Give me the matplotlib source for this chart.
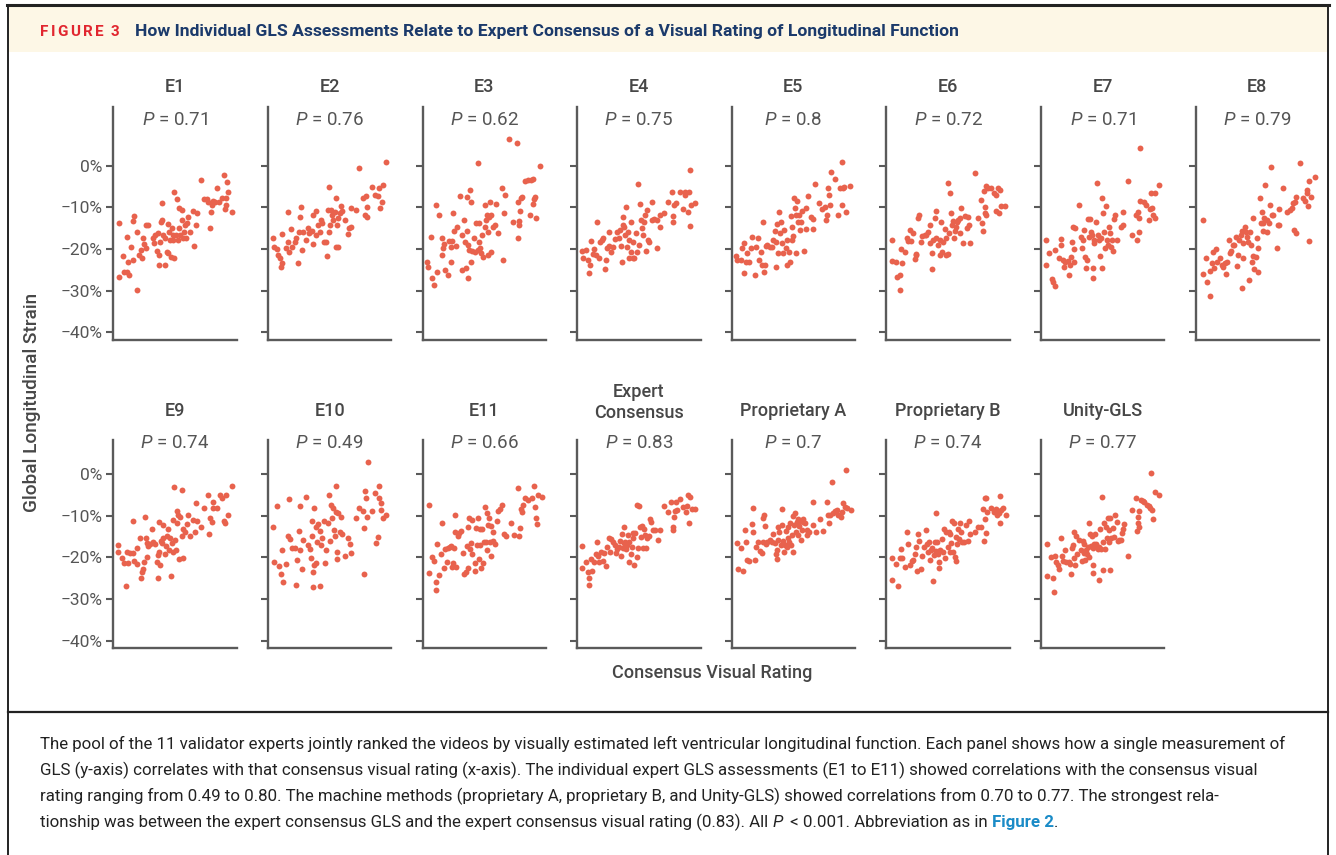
import matplotlib
matplotlib.use("Agg")
import matplotlib.pyplot as plt
from matplotlib.patches import Rectangle
from matplotlib.lines import Line2D

plt.rcParams['font.family'] = ['Roboto', 'DejaVu Sans']
plt.rcParams['mathtext.fontset'] = 'custom'
plt.rcParams['mathtext.rm'] = 'Roboto'
plt.rcParams['mathtext.it'] = 'Roboto:italic'
plt.rcParams['mathtext.bf'] = 'Roboto:bold'

# ---------------- data: (consensus visual rating, GLS %) ----------------
e1 = [(4.6,-13.7),(4.3,-26.7),(7.6,-21.7),(9.0,-25.4),(10.8,-17.1),(10.8,-25.6),(12.4,-26.1),(11.6,-23.2),
      (14.0,-19.4),(16.2,-22.7),(16.2,-13.2),(17.0,-12.0),(18.9,-15.8),(18.9,-29.8),(21.0,-21.4),(23.0,-22.1),
      (22.2,-20.2),(23.8,-17.3),(25.1,-18.7),(26.2,-14.2),(28.4,-14.2),(26.5,-19.8),(31.9,-17.4),(33.2,-18.6),
      (33.8,-16.6),(36.5,-16.2),(35.7,-20.5),(37.3,-21.4),(37.3,-23.7),(37.8,-18.2),(38.6,-13.4),(39.2,-8.9),
      (39.7,-13.0),(40.3,-16.6),(41.9,-23.8),(41.9,-17.4),(43.2,-20.6),(44.0,-21.0),(44.6,-14.0),(45.4,-15.8),
      (45.9,-17.8),(46.5,-21.8),(47.3,-15.0),(48.1,-16.6),(48.6,-17.8),(49.2,-22.1),(49.5,-6.2),(50.8,-16.6),
      (51.4,-8.0),(52.2,-17.8),(53.0,-10.1),(53.5,-15.0),(54.0,-16.6),(55.4,-13.0),(55.7,-10.7),(56.2,-17.4),
      (57.3,-15.8),(58.1,-14.2),(58.9,-17.4),(60.0,-13.8),(60.8,-12.2),(62.2,-16.0),(64.6,-10.9),(65.7,-19.2),
      (67.0,-14.2),(68.1,-11.4),(71.1,-3.4),(73.8,-8.0),(76.2,-8.0),(77.0,-8.6),(78.4,-14.9),(79.2,-11.2),
      (79.7,-9.4),(81.1,-8.5),(82.4,-8.8),(84.3,-5.3),(85.9,-8.6),(87.8,-7.8),(89.7,-2.2),(90.3,-10.4),
      (91.6,-7.8),(91.9,-3.8),(92.7,-6.2),(91.4,-9.4),(95.9,-11.0)]
e2 = [(4.1,-17.4),(4.6,-19.5),(7.3,-20.0),(8.1,-21.4),(9.5,-22.2),(10.3,-24.2),(11.6,-23.3),(11.6,-16.3),
      (14.3,-19.8),(16.2,-18.2),(16.5,-11.2),(17.0,-20.6),(18.9,-15.2),(19.7,-19.4),(21.6,-18.2),(23.0,-17.4),
      (24.0,-23.4),(25.1,-15.8),(25.7,-12.2),(26.8,-9.8),(27.3,-20.3),(28.4,-15.8),(30.8,-17.8),(32.4,-15.0),
      (33.5,-16.2),(35.7,-15.6),(36.2,-18.8),(36.8,-11.7),(38.6,-10.9),(39.2,-16.6),(40.5,-14.2),(41.9,-15.8),
      (43.2,-13.0),(44.0,-13.8),(45.1,-18.2),(46.8,-18.3),(48.1,-21.6),(48.6,-10.6),(49.5,-5.1),(49.5,-15.8),
      (50.5,-14.2),(51.4,-10.5),(52.2,-11.8),(52.7,-13.0),(54.0,-11.2),(54.9,-19.4),(55.4,-7.7),(56.0,-14.1),
      (56.8,-19.6),(57.0,-12.6),(58.1,-11.4),(59.5,-9.7),(60.3,-10.9),(62.2,-12.9),(64.9,-16.4),(65.7,-14.9),
      (67.0,-10.1),(67.6,-14.6),(71.1,-10.6),(73.8,-0.6),(77.0,-7.7),(78.4,-11.7),(79.2,-7.3),(80.0,-9.8),
      (80.5,-12.2),(84.0,-5.1),(86.8,-7.0),(88.9,-7.3),(90.3,-5.3),(90.8,-10.1),(92.2,-8.8),(93.5,-4.6),
      (95.9,1.0)]
e3 = [(3.5,-23.0),(4.1,-24.4),(6.8,-17.0),(8.1,-27.0),(9.7,-28.7),(10.8,-9.4),(11.6,-25.4),(13.5,-11.7),
      (15.4,-17.3),(15.4,-21.3),(16.8,-19.8),(17.6,-18.7),(18.4,-25.1),(20.3,-26.1),(21.6,-18.1),(23.0,-19.5),
      (23.5,-23.2),(24.3,-18.1),(25.1,-11.4),(25.7,-15.7),(27.0,-19.2),(27.6,-14.6),(30.3,-7.3),(31.9,-25.0),
      (32.4,-16.5),(33.8,-13.0),(34.6,-18.2),(35.1,-24.6),(35.9,-7.4),(35.9,-15.7),(36.5,-27.0),(36.8,-19.0),
      (37.3,-20.2),(38.4,-5.8),(39.2,-8.7),(39.5,-23.0),(40.5,-20.5),(41.9,-17.4),(42.2,-20.6),(43.2,-13.7),
      (44.6,0.6),(44.6,-20.2),(45.4,-13.8),(45.9,-18.2),(46.8,-19.8),(47.3,-21.0),(48.6,-16.6),(49.2,-21.8),
      (50.3,-9.4),(50.8,-14.6),(51.4,-13.0),(52.2,-11.8),(52.7,-21.4),(53.2,-15.8),(54.0,-12.2),(54.9,-8.8),
      (55.4,-20.6),(55.9,-11.8),(56.8,-14.6),(58.9,-14.2),(59.5,-9.2),(61.0,-16.2),(64.3,-5.4),(64.9,-22.5),
      (65.9,-11.4),(67.0,-6.9),(70.0,6.4),(73.0,-13.4),(76.2,5.4),(77.0,-8.6),(77.3,-17.4),(77.8,-14.1),
      (78.4,-13.3),(78.9,-10.9),(79.7,-7.8),(80.3,-7.4),(83.2,-3.6),(85.1,-3.4),(87.0,-11.7),(87.8,-3.4),
      (89.2,-9.2),(89.7,-3.2),(90.5,-8.0),(91.1,-7.4),(92.2,-12.6),(95.4,-0.1)]
e4 = [(4.1,-20.5),(4.6,-22.2),(7.3,-20.2),(8.6,-22.6),(10.0,-25.7),(10.8,-23.7),(11.4,-18.1),(12.7,-21.1),
      (14.1,-20.0),(15.4,-21.4),(15.9,-13.4),(17.6,-22.1),(18.6,-18.4),(20.3,-17.8),(20.8,-17.4),(22.4,-24.8),
      (23.5,-22.6),(24.0,-19.7),(25.7,-16.0),(26.2,-19.2),(27.6,-20.8),(28.9,-19.4),(31.1,-17.6),(32.2,-15.8),
      (33.8,-17.4),(34.9,-15.4),(35.7,-19.2),(36.5,-23.0),(37.0,-12.2),(37.0,-14.2),(38.4,-14.6),(39.2,-16.5),
      (39.7,-9.8),(40.5,-19.4),(41.1,-15.8),(41.9,-22.1),(42.4,-17.8),(43.8,-13.6),(44.0,-20.6),(45.1,-22.2),
      (45.7,-18.4),(46.5,-22.2),(47.8,-16.2),(48.9,-20.6),(49.2,-4.4),(50.0,-19.0),(51.1,-9.2),(51.9,-13.0),
      (52.7,-15.0),(53.2,-16.6),(54.6,-13.4),(55.4,-11.7),(56.0,-20.4),(56.5,-10.6),(57.3,-17.8),(58.1,-18.2),
      (60.3,-8.8),(61.0,-13.0),(62.7,-12.8),(64.6,-12.9),(65.1,-19.7),(66.8,-14.6),(67.3,-11.7),(70.8,-11.3),
      (73.5,-8.6),(76.8,-6.4),(77.6,-13.4),(78.1,-12.0),(78.9,-9.3),(80.3,-8.9),(83.5,-6.2),(86.2,-10.4),
      (87.3,-7.0),(87.8,-6.4),(89.7,-11.2),(90.5,-6.4),(91.6,-1.0),(91.4,-14.5),(92.4,-9.4),(95.7,-9.0)]
e5 = [(3.8,-21.6),(4.6,-22.6),(7.3,-22.5),(8.1,-19.7),(10.0,-18.5),(10.3,-25.7),(11.4,-23.0),(12.7,-20.9),
      (14.0,-23.0),(15.4,-19.8),(16.8,-17.2),(18.9,-26.2),(19.5,-19.6),(21.4,-17.3),(22.2,-22.5),(23.5,-20.8),
      (24.9,-23.8),(25.7,-13.4),(26.2,-25.4),(26.8,-23.8),(27.6,-19.2),(28.9,-18.9),(30.8,-19.4),(33.0,-19.4),
      (33.8,-17.8),(34.9,-15.7),(35.7,-18.2),(36.2,-24.2),(37.0,-14.0),(37.3,-21.0),(38.4,-11.0),(38.9,-16.2),
      (39.7,-13.4),(40.5,-18.6),(41.9,-21.0),(42.2,-15.5),(43.8,-19.7),(44.6,-17.8),(45.1,-23.8),(46.5,-20.6),
      (47.0,-23.2),(47.8,-12.0),(48.6,-17.8),(49.2,-14.6),(49.7,-16.8),(50.5,-7.8),(51.4,-10.2),(51.9,-21.0),
      (52.4,-11.8),(53.2,-8.5),(54.0,-13.6),(54.6,-11.8),(55.4,-15.4),(55.9,-13.6),(57.3,-10.9),(58.6,-20.5),
      (60.0,-15.2),(60.5,-10.2),(61.9,-7.2),(64.1,-12.2),(65.9,-12.8),(65.9,-15.2),(67.6,-4.4),(70.8,-8.9),
      (73.5,-10.4),(75.7,-9.8),(76.8,-13.0),(77.6,-11.8),(78.4,-5.4),(78.9,-7.0),(79.5,-9.4),(80.5,-1.6),
      (83.8,-3.2),(86.5,-11.8),(87.6,-5.3),(89.2,-9.4),(90.3,-5.4),(89.7,1.0),(91.4,-5.2),(93.0,-11.2),
      (95.7,-4.8)]
e6 = [(4.9,-17.8),(4.9,-22.9),(8.1,-23.0),(8.6,-26.6),(10.8,-26.2),(10.8,-29.8),(12.2,-20.0),(13.0,-23.3),
      (14.9,-20.8),(16.8,-17.4),(17.8,-18.1),(19.5,-15.5),(20.3,-18.1),(21.6,-16.2),(23.0,-22.4),(23.8,-21.4),
      (24.3,-21.1),(25.9,-12.5),(26.5,-11.8),(28.4,-18.4),(29.2,-16.8),(31.1,-16.6),(32.4,-16.5),(33.8,-15.8),
      (35.1,-14.2),(35.7,-18.6),(37.0,-24.8),(37.3,-20.9),(37.8,-17.8),(39.2,-12.6),(40.0,-10.9),(40.5,-17.4),
      (41.9,-19.0),(43.2,-17.8),(43.8,-21.4),(44.6,-13.6),(45.4,-20.6),(45.9,-18.2),(47.3,-15.2),(48.1,-21.4),
      (48.6,-17.4),(49.7,-4.2),(50.3,-21.2),(50.8,-16.2),(51.4,-6.6),(52.7,-11.4),(53.5,-14.1),(54.0,-13.3),
      (54.9,-17.4),(55.7,-15.6),(56.8,-14.6),(57.3,-13.6),(58.1,-13.0),(59.5,-16.2),(60.0,-12.6),(60.8,-10.2),
      (62.2,-18.6),(63.5,-12.0),(65.4,-15.0),(66.2,-12.2),(67.0,-14.2),(68.1,-18.6),(71.6,-1.8),(74.3,-12.6),
      (77.0,-8.2),(77.8,-13.8),(78.4,-15.7),(78.9,-6.1),(79.7,-9.8),(79.7,-11.4),(80.5,-4.8),(81.1,-11.8),
      (82.4,-5.3),(85.1,-5.3),(87.0,-6.6),(88.6,-10.9),(89.2,-6.9),(90.5,-5.4),(91.4,-11.4),(92.4,-5.8),
      (93.2,-9.6),(96.5,-9.6)]
e7 = [(4.1,-17.8),(4.1,-23.7),(6.8,-21.0),(8.9,-27.2),(10.0,-27.8),(11.1,-28.9),(11.6,-20.2),(14.3,-22.1),
      (16.2,-18.9),(16.5,-17.6),(17.6,-22.6),(18.4,-24.2),(19.7,-23.0),(21.6,-22.8),(22.4,-26.2),(23.5,-23.7),
      (24.3,-21.8),(25.1,-18.2),(25.7,-14.6),(27.0,-20.0),(27.8,-15.0),(27.0,-23.2),(31.1,-9.4),(32.4,-17.0),
      (33.2,-19.8),(33.8,-17.8),(35.1,-15.4),(36.0,-21.8),(36.5,-24.6),(37.0,-22.6),(37.8,-12.8),(38.6,-17.0),
      (39.7,-12.8),(40.5,-15.8),(41.4,-16.6),(41.9,-27.0),(41.9,-24.6),(42.7,-17.8),(43.2,-18.6),(44.6,-13.4),
      (45.4,-4.2),(45.9,-16.6),(46.8,-17.8),(47.8,-21.7),(48.6,-17.4),(49.2,-7.8),(49.5,-24.6),(50.5,-11.4),
      (51.4,-15.8),(52.2,-19.7),(52.7,-9.6),(53.2,-17.8),(54.0,-19.0),(54.9,-14.6),(55.9,-16.2),(56.8,-19.4),
      (57.6,-17.8),(58.6,-20.5),(59.5,-12.8),(60.3,-11.8),(61.4,-17.8),(64.9,-14.6),(66.2,-14.2),(66.8,-11.0),
      (70.5,-3.7),(73.8,-16.5),(77.0,-11.8),(77.6,-17.7),(78.4,-11.0),(79.2,-16.0),(79.7,-12.5),(80.5,-8.5),
      (80.5,4.3),(83.2,-8.8),(85.1,-9.4),(87.3,-12.9),(88.4,-10.4),(89.5,-6.6),(90.0,-10.1),(91.1,-11.7),
      (92.4,-6.6),(92.7,-12.5),(95.9,-4.5)]
e8 = [(5.7,-13.1),(5.7,-25.9),(8.9,-22.1),(9.7,-27.8),(11.6,-31.2),(11.6,-25.2),(13.0,-23.4),(13.8,-20.8),
      (14.9,-24.6),(17.0,-20.0),(17.6,-23.0),(19.7,-22.2),(21.1,-23.7),(22.4,-24.2),(23.8,-23.4),(25.1,-26.0),
      (25.7,-23.0),(26.8,-17.7),(27.8,-21.0),(28.6,-20.5),(30.0,-19.0),(31.1,-18.9),(33.2,-17.0),(33.8,-24.0),
      (34.6,-21.4),(35.4,-17.8),(36.5,-16.6),(37.3,-15.7),(37.6,-29.4),(38.1,-18.6),(38.6,-22.1),(40.0,-14.6),
      (40.8,-15.8),(41.9,-17.0),(42.7,-18.4),(43.0,-27.5),(44.1,-15.8),(44.9,-19.0),(45.4,-23.0),(46.2,-21.6),
      (46.8,-12.6),(47.6,-24.8),(48.9,-21.8),(49.5,-17.4),(50.5,-25.4),(50.8,-19.8),(52.2,-7.7),(52.7,-13.8),
      (53.5,-11.2),(54.3,-15.7),(54.9,-13.8),(55.7,-12.5),(56.5,-4.6),(57.6,-15.8),(58.1,-13.0),(59.7,-13.8),
      (60.3,-9.4),(60.8,-0.2),(61.6,-11.7),(63.0,-11.7),(66.2,-19.7),(67.0,-14.2),(67.8,-14.2),(67.8,-10.4),
      (71.1,-5.3),(74.3,-11.2),(76.5,-10.6),(77.8,-10.2),(79.2,-9.0),(80.0,-15.4),(80.5,-8.6),(81.4,-16.2),
      (81.4,-7.4),(84.6,0.7),(87.3,-7.8),(88.6,-8.4),(90.0,-5.9),(90.5,-6.6),(90.8,-9.6),(92.2,-18.1),
      (93.2,-7.4),(92.2,-3.7),(96.8,-2.6)]
e9 = [(4.1,-17.0),(4.1,-18.6),(6.8,-20.1),(8.6,-21.4),(10.3,-26.8),(10.8,-18.8),(12.2,-21.4),(13.5,-19.0),
      (15.7,-19.0),(16.2,-11.2),(17.0,-20.9),(18.9,-17.7),(18.9,-21.7),(21.6,-15.3),(22.4,-25.0),(23.5,-23.4),
      (23.8,-22.8),(25.1,-21.2),(25.7,-10.2),(26.5,-15.3),(27.0,-16.5),(27.6,-19.8),(28.4,-17.2),(29.7,-16.9),
      (31.1,-13.2),(32.4,-16.4),(33.8,-16.9),(35.7,-21.0),(36.5,-24.9),(36.5,-19.4),(37.0,-11.6),(37.3,-18.6),
      (37.8,-21.8),(38.4,-16.1),(39.2,-16.6),(40.0,-12.2),(40.5,-15.4),(41.9,-19.3),(42.7,-17.2),(43.2,-14.8),
      (44.6,-13.2),(45.4,-18.2),(45.9,-15.3),(46.5,-24.5),(47.3,-16.6),(48.1,-11.0),(48.6,-18.6),(49.5,-3.0),
      (50.0,-15.8),(50.8,-18.2),(51.4,-8.9),(51.9,-11.8),(52.7,-9.8),(53.5,-20.5),(54.0,-10.2),(55.4,-3.8),
      (55.4,-14.8),(56.2,-20.2),(56.8,-13.2),(58.1,-14.0),(60.0,-12.1),(60.8,-9.7),(62.2,-14.8),(64.9,-11.0),
      (66.2,-13.8),(67.0,-7.0),(68.1,-11.2),(71.1,-12.6),(73.5,-8.2),(77.0,-5.0),(77.8,-14.5),(78.4,-10.5),
      (79.7,-11.4),(80.5,-8.2),(81.1,-6.6),(83.8,-8.1),(86.5,-5.0),(87.8,-5.7),(89.7,-11.3),(90.5,-11.8),
      (91.4,-5.0),(93.2,-9.7),(95.9,-2.8)]
e10 = [(4.1,-12.6),(4.6,-21.2),(7.3,-7.6),(8.9,-22.0),(10.8,-24.1),(11.6,-18.2),(12.2,-25.8),(14.3,-21.7),
       (16.2,-14.8),(17.0,-6.0),(18.1,-15.6),(19.7,-17.7),(21.6,-17.7),(22.4,-26.6),(23.5,-20.6),(25.1,-13.7),
       (25.7,-18.2),(26.2,-7.6),(27.3,-22.8),(28.4,-15.8),(31.1,-5.4),(32.4,-17.0),(33.8,-18.0),(35.1,-20.1),
       (35.9,-14.8),(35.9,-11.3),(36.5,-23.4),(36.5,-27.0),(37.0,-8.2),(37.3,-21.8),(38.6,-12.6),(39.2,-21.4),
       (39.7,-16.4),(40.5,-12.1),(41.9,-13.7),(41.9,-26.8),(43.2,-17.0),(44.1,-15.4),(45.1,-11.3),(45.9,-21.4),
       (47.3,-18.2),(48.6,-11.8),(49.5,-4.9),(50.0,-16.1),(50.8,-7.3),(51.9,-10.5),(52.7,-8.2),(53.2,-13.4),
       (54.0,-14.8),(54.9,-9.2),(55.4,-2.8),(56.0,-18.8),(56.2,-20.4),(56.8,-9.4),(58.1,-14.0),(59.5,-10.2),
       (60.3,-14.5),(62.2,-19.6),(64.9,-15.3),(66.8,-16.9),(67.6,-18.9),(71.1,-10.5),(73.8,-8.2),(77.0,-8.9),
       (77.8,-12.9),(77.8,-24.0),(78.4,-4.1),(79.2,-5.7),(80.0,-10.2),(80.8,3.0),(84.6,-8.9),(86.5,-4.6),
       (87.8,-16.6),(89.5,-15.0),(90.0,-2.8),(90.0,-5.8),(91.9,-7.0),(91.9,-8.6),(93.2,-10.5),(95.9,-9.7)]
e11 = [(4.9,-7.4),(4.9,-23.8),(7.8,-19.8),(9.2,-20.9),(10.8,-25.8),(10.8,-27.8),(11.9,-16.9),(13.0,-24.2),
       (14.6,-19.3),(16.2,-11.8),(17.3,-22.6),(18.1,-18.0),(19.5,-21.0),(20.8,-17.7),(22.2,-17.4),(23.5,-17.2),
       (24.1,-22.2),(24.9,-21.4),(25.7,-17.7),(26.5,-9.7),(27.0,-22.2),(26.2,-14.0),(28.4,-14.8),(29.7,-14.2),
       (31.6,-13.7),(33.0,-19.0),(33.5,-24.1),(35.1,-23.4),(36.2,-17.2),(37.0,-12.6),(37.0,-22.6),(37.8,-10.5),
       (38.4,-18.0),(39.2,-16.6),(40.0,-11.0),(40.5,-19.3),(42.4,-21.4),(42.7,-23.3),(43.2,-12.9),(43.8,-17.0),
       (45.1,-10.6),(45.4,-20.4),(46.5,-13.2),(47.0,-17.0),(47.8,-22.5),(48.6,-13.2),(49.2,-21.4),(49.7,-16.4),
       (50.3,-7.8),(51.4,-16.4),(51.9,-9.4),(52.4,-18.2),(53.2,-12.2),(53.8,-10.5),(54.6,-16.4),(55.4,-12.4),
       (55.9,-19.6),(56.8,-13.8),(57.3,-16.1),(58.6,-16.9),(60.5,-11.3),(61.4,-8.9),(62.7,-8.4),(64.1,-7.3),
       (66.2,-14.5),(67.8,-14.8),(71.4,-11.8),(74.1,-14.6),(77.6,-3.4),(78.4,-14.8),(78.9,-12.9),(79.5,-8.4),
       (80.5,-9.2),(81.1,-7.4),(83.0,-5.8),(85.7,-6.2),(88.4,-5.8),(90.3,-2.9),(90.8,-7.8),(91.6,-10.5),
       (92.4,-12.1),(93.8,-4.9),(96.5,-5.4)]
expert_consensus = [(4.1,-17.2),(4.1,-22.6),(7.3,-21.2),(8.6,-23.6),(10.0,-25.0),(10.0,-26.6),(11.4,-20.4),
       (12.2,-23.2),(14.1,-21.2),(15.4,-19.3),(16.2,-16.2),(17.0,-19.7),(18.1,-21.2),(19.5,-18.8),(20.8,-20.9),
       (22.2,-19.0),(23.5,-22.0),(24.3,-17.4),(25.7,-15.4),(26.8,-18.6),(27.6,-15.6),(28.9,-16.4),(31.1,-17.0),
       (31.6,-19.0),(32.2,-18.0),(33.8,-17.4),(34.9,-16.1),(35.7,-19.6),(36.2,-14.5),(37.0,-17.7),(37.8,-16.6),
       (38.4,-12.6),(39.2,-16.4),(39.7,-18.0),(40.3,-17.0),(41.1,-14.6),(41.9,-21.2),(42.4,-16.4),(43.8,-19.3),
       (44.6,-17.4),(45.1,-15.4),(45.7,-14.2),(46.5,-21.8),(47.3,-14.2),(48.4,-19.8),(48.9,-7.3),(49.5,-17.7),
       (50.5,-7.6),(51.1,-12.6),(51.9,-15.0),(52.7,-12.4),(53.2,-17.7),(54.6,-13.2),(55.4,-14.6),(56.0,-17.7),
       (56.5,-15.3),(58.1,-14.8),(59.2,-10.8),(60.0,-11.6),(61.4,-13.4),(63.5,-13.4),(65.4,-15.8),(67.3,-13.4),
       (70.8,-7.6),(73.5,-9.0),(76.2,-6.8),(77.6,-12.6),(78.1,-13.4),(78.9,-10.2),(79.5,-8.9),(80.3,-6.6),
       (81.0,-8.6),(83.5,-6.0),(86.2,-7.8),(88.4,-9.0),(88.9,-7.6),(89.7,-5.0),(91.0,-11.8),(91.6,-5.4),
       (93.2,-8.4),(95.9,-8.4)]
proprietary_a = [(4.6,-16.6),(4.9,-22.8),(7.6,-17.7),(8.9,-23.3),(10.8,-13.4),(11.6,-16.2),(12.7,-20.6),
       (14.3,-20.9),(16.2,-12.1),(17.0,-13.8),(17.6,-8.2),(18.9,-20.6),(19.7,-17.4),(21.6,-16.4),(23.0,-18.5),
       (24.3,-19.0),(25.1,-16.4),(25.7,-10.5),(26.5,-9.7),(27.0,-12.4),(27.8,-16.9),(28.9,-16.4),(31.1,-15.8),
       (32.4,-16.4),(33.2,-14.5),(35.1,-16.6),(35.9,-19.3),(36.5,-18.2),(37.0,-20.4),(37.3,-12.6),(37.8,-15.8),
       (38.6,-14.0),(39.7,-17.0),(40.5,-8.4),(40.8,-12.2),(41.9,-16.1),(42.4,-18.6),(43.2,-17.0),(44.1,-13.7),
       (44.6,-17.4),(45.4,-15.4),(45.9,-12.6),(46.8,-16.4),(47.3,-11.8),(48.1,-17.0),(48.6,-14.6),(49.5,-10.0),
       (50.0,-18.8),(50.5,-12.2),(51.4,-9.4),(52.2,-13.8),(52.7,-11.4),(53.5,-10.8),(54.0,-14.6),(54.9,-12.4),
       (55.4,-11.3),(56.2,-15.8),(56.8,-13.4),(57.6,-11.4),(58.1,-10.8),(59.5,-11.8),(60.8,-14.6),(61.4,-13.4),
       (63.0,-13.8),(65.7,-6.8),(66.2,-12.2),(68.4,-14.0),(71.6,-10.8),(74.3,-13.7),(77.0,-6.6),(78.4,-9.7),
       (79.2,-11.8),(79.7,-9.8),(81.1,-2.0),(81.9,-9.4),(83.8,-8.9),(85.1,-8.6),(86.5,-9.7),(88.4,-10.2),
       (89.2,-9.0),(90.5,-7.0),(91.9,-7.8),(92.4,1.0),(93.2,-8.2),(96.5,-8.6)]
proprietary_b = [(4.9,-20.1),(4.9,-25.4),(8.1,-21.7),(9.5,-26.8),(10.8,-20.1),(12.2,-18.0),(13.0,-20.2),
       (14.9,-22.2),(16.8,-14.0),(17.6,-16.9),(19.5,-21.8),(20.8,-20.9),(21.6,-20.6),(23.0,-19.3),(24.3,-17.4),
       (24.9,-23.3),(25.9,-14.5),(26.5,-16.1),(27.8,-22.8),(29.2,-19.6),(30.3,-17.4),(31.9,-13.4),(33.0,-16.9),
       (33.8,-18.8),(34.6,-16.4),(35.7,-20.6),(36.5,-18.2),(37.3,-17.7),(37.8,-25.7),(38.4,-19.4),(39.2,-16.4),
       (40.0,-18.5),(40.5,-9.4),(41.1,-16.4),(41.9,-19.3),(42.7,-21.2),(42.7,-22.5),(43.8,-18.2),(45.4,-15.6),
       (45.9,-18.6),(46.5,-13.2),(47.3,-20.2),(48.6,-13.8),(50.0,-17.4),(50.8,-14.0),(51.4,-18.8),(51.9,-14.5),
       (52.7,-16.6),(53.5,-11.3),(54.0,-18.6),(54.6,-11.8),(55.4,-19.8),(56.2,-15.0),(56.8,-20.9),(57.3,-16.9),
       (58.1,-13.2),(58.9,-15.6),(60.0,-11.8),(60.8,-14.0),(61.6,-16.4),(62.7,-16.4),(64.9,-12.2),(66.2,-16.1),
       (67.0,-11.3),(68.1,-14.5),(71.6,-14.0),(74.3,-12.6),(77.0,-12.6),(78.4,-8.4),(78.9,-16.1),(79.7,-5.8),
       (79.7,-10.8),(80.5,-14.2),(81.1,-5.8),(81.9,-9.0),(85.1,-8.1),(87.0,-9.2),(88.6,-8.4),(89.7,-9.8),
       (91.4,-9.4),(91.9,-5.2),(91.9,-11.7),(93.2,-8.6),(94.6,-8.2),(96.8,-9.8)]
unity_gls = [(4.9,-16.9),(4.9,-24.4),(8.1,-19.8),(9.5,-24.9),(10.8,-28.2),(11.6,-19.6),(12.2,-21.2),(13.5,-21.8),
       (14.9,-22.8),(16.5,-15.3),(17.0,-19.6),(18.1,-20.9),(19.7,-18.2),(20.3,-21.0),(22.4,-21.2),(23.5,-21.7),
       (24.3,-24.1),(25.1,-17.8),(25.7,-17.0),(26.5,-14.0),(27.0,-20.2),(27.8,-21.8),(28.4,-14.8),(28.9,-19.3),
       (30.5,-15.8),(32.4,-18.2),(33.2,-20.9),(33.8,-16.1),(34.6,-19.0),(35.1,-16.9),(35.9,-20.6),(36.5,-18.2),
       (37.0,-19.3),(37.8,-17.4),(38.6,-19.8),(39.2,-11.8),(40.0,-14.5),(40.5,-17.2),(41.4,-14.8),(41.9,-17.7),
       (42.4,-21.8),(42.4,-23.8),(43.2,-16.9),(44.1,-14.5),(44.6,-16.9),(45.4,-17.4),(45.9,-18.0),(46.8,-25.4),
       (47.3,-17.4),(48.1,-13.2),(48.9,-18.0),(49.5,-5.4),(50.0,-23.0),(50.5,-16.4),(51.4,-11.8),(52.2,-18.0),
       (52.7,-12.6),(53.2,-15.3),(54.0,-10.5),(54.9,-13.4),(55.4,-16.4),(55.9,-23.0),(56.2,-10.5),(56.8,-15.3),
       (58.1,-12.9),(58.9,-15.0),(60.3,-9.7),(61.4,-11.6),(62.2,-16.1),(63.5,-15.8),(64.9,-15.8),(65.7,-14.2),
       (66.8,-13.2),(67.6,-12.1),(70.5,-19.6),(73.5,-8.6),(77.0,-5.8),(77.6,-13.7),(78.4,-11.8),(78.6,-10.2),
       (79.2,-8.9),(79.7,-12.6),(81.1,-6.2),(82.4,-6.5),(83.8,-6.6),(85.7,-7.3),(87.3,-7.6),(88.4,-8.1),
       (89.2,0.2),(90.0,-8.6),(91.1,-10.8),(92.7,-4.4),(95.9,-4.9)]

panel_data = [e1, e2, e3, e4, e5, e6, e7, e8, e9, e10, e11,
              expert_consensus, proprietary_a, proprietary_b, unity_gls]
panel_titles = ["E1", "E2", "E3", "E4", "E5", "E6", "E7", "E8",
                "E9", "E10", "E11", "Expert\nConsensus", "Proprietary A", "Proprietary B", "Unity-GLS"]
p_values = ["0.71", "0.76", "0.62", "0.75", "0.8", "0.72", "0.71", "0.79",
            "0.74", "0.49", "0.66", "0.83", "0.7", "0.74", "0.77"]
y_ticks = [0, -10, -20, -30, -40]
y_tick_labels = ["0%", "\u221210%", "\u221220%", "\u221230%", "\u221240%"]

# ---------------- layout ----------------
W, H = 1336, 855
fig = plt.figure(figsize=(W / 100, H / 100), dpi=100)
fig.patch.set_facecolor("white")
renderer = fig.canvas.get_renderer()

def fx(px):
    return px / W

def fy(py):
    return 1 - py / H

DOT = "#E8624D"
AXC = "#5a5a5a"
TXT = "#474747"

# frame + header
fig.add_artist(Rectangle((fx(8), fy(52)), fx(1328) - fx(8), fy(6) - fy(52),
                         transform=fig.transFigure, facecolor="#FDF7E6", edgecolor="none", zorder=0))
fig.add_artist(Line2D([fx(7), fx(1329)], [fy(5), fy(5)], transform=fig.transFigure, color="#222222", lw=2.2))
fig.add_artist(Line2D([fx(8), fx(8)], [fy(5), fy(856)], transform=fig.transFigure, color="#222222", lw=1.4))
fig.add_artist(Line2D([fx(1328), fx(1328)], [fy(5), fy(856)], transform=fig.transFigure, color="#222222", lw=1.4))
fig.add_artist(Line2D([fx(8), fx(1328)], [fy(712), fy(712)], transform=fig.transFigure, color="#222222", lw=1.6))

# "FIGURE 3" with letter spacing
xpos = 40
for ch in "FIGURE 3":
    t = fig.text(fx(xpos), fy(36), ch, color="#E1262F", fontsize=11, fontweight="bold",
                 ha="left", va="baseline")
    bb = t.get_window_extent(renderer=renderer)
    xpos = bb.x1 + 2.3 if ch != " " else xpos + 5
fig.text(fx(135), fy(36), "How Individual GLS Assessments Relate to Expert Consensus of a Visual Rating of Longitudinal Function",
         color="#1B3A6B", fontsize=12.6, fontweight="bold", ha="left", va="baseline")

col_left = 113.3
col_step = 154.6
ax_w = 123.4
rows = [dict(top=107, bottom=340, ylim=(-41.8, 14.1), title_y=87, p_y=120),
        dict(top=440, bottom=647.7, ylim=(-41.7, 8.2), title_y=411, p_y=443)]

for i, pts in enumerate(panel_data):
    r = 0 if i < 8 else 1
    c = i if i < 8 else i - 8
    row = rows[r]
    left = col_left + col_step * c
    ax = fig.add_axes([fx(left), fy(row["bottom"]), ax_w / W, (row["bottom"] - row["top"]) / H])
    xs = [p[0] for p in pts]
    ys = [p[1] for p in pts]
    ax.scatter(xs, ys, s=18, color=DOT, linewidths=0, zorder=3)
    ax.set_xlim(0, 100)
    ax.set_ylim(*row["ylim"])
    for s in ("top", "right"):
        ax.spines[s].set_visible(False)
    for s in ("left", "bottom"):
        ax.spines[s].set_color(AXC)
        ax.spines[s].set_linewidth(1.7)
    ax.set_xticks([])
    ax.set_yticks(y_ticks)
    ax.tick_params(axis="y", length=5, width=1.5, color=AXC, labelsize=12.5, labelcolor="#555555", pad=3)
    if c == 0:
        ax.set_yticklabels(y_tick_labels)
    else:
        ax.set_yticklabels([])
    ax.patch.set_alpha(0)
    cx = fx(left + ax_w / 2)
    if "\n" in panel_titles[i]:
        fig.text(cx, fy(row["title_y"] + 11), panel_titles[i], ha="center", va="bottom", fontsize=13,
                 color=TXT, fontweight="medium", linespacing=1.2)
    else:
        fig.text(cx, fy(row["title_y"]), panel_titles[i], ha="center", va="center", fontsize=13,
                 color=TXT, fontweight="medium")
    fig.text(cx, fy(row["p_y"]), r"$\it{P}$ = " + p_values[i], ha="center", va="center",
             fontsize=13.5, color="#555555")

fig.text(fx(32), fy(402), "Global Longitudinal Strain", rotation=90, ha="center", va="center",
         fontsize=13.7, color=TXT, fontweight="medium")
fig.text(fx(712), fy(673), "Consensus Visual Rating", ha="center", va="center",
         fontsize=13, color=TXT, fontweight="medium")

# caption
caption_lines = [
    "The pool of the 11 validator experts jointly ranked the videos by visually estimated left ventricular longitudinal function. Each panel shows how a single measurement of",
    "GLS (y-axis) correlates with that consensus visual rating (x-axis). The individual expert GLS assessments (E1 to E11) showed correlations with the consensus visual",
    "rating ranging from 0.49 to 0.80. The machine methods (proprietary A, proprietary B, and Unity-GLS) showed correlations from 0.70 to 0.77. The strongest rela-",
]
cap_fs = 12.2
cap_col = "#222222"
cap_y = [749, 775, 801, 827]
for line, yb in zip(caption_lines, cap_y):
    fig.text(fx(40), fy(yb), line, ha="left", va="baseline", fontsize=cap_fs, color=cap_col)

pieces = [
    ("tionship was between the expert consensus GLS and the expert consensus visual rating (0.83). All ", cap_col, "normal"),
    (r"$\it{P}$", cap_col, "normal"),
    (" < 0.001. Abbreviation as in ", cap_col, "normal"),
    ("Figure 2", "#1A8BC7", "bold"),
    (".", cap_col, "normal"),
]
xpos = 40
for txt, col, wt in pieces:
    t = fig.text(fx(xpos), fy(cap_y[3]), txt, ha="left", va="baseline", fontsize=cap_fs, color=col, fontweight=wt)
    bb = t.get_window_extent(renderer=renderer)
    xpos = bb.x1 + (1.5 if txt == r"$\it{P}$" else 0)

fig.savefig("out.png", dpi=100, facecolor="white")
